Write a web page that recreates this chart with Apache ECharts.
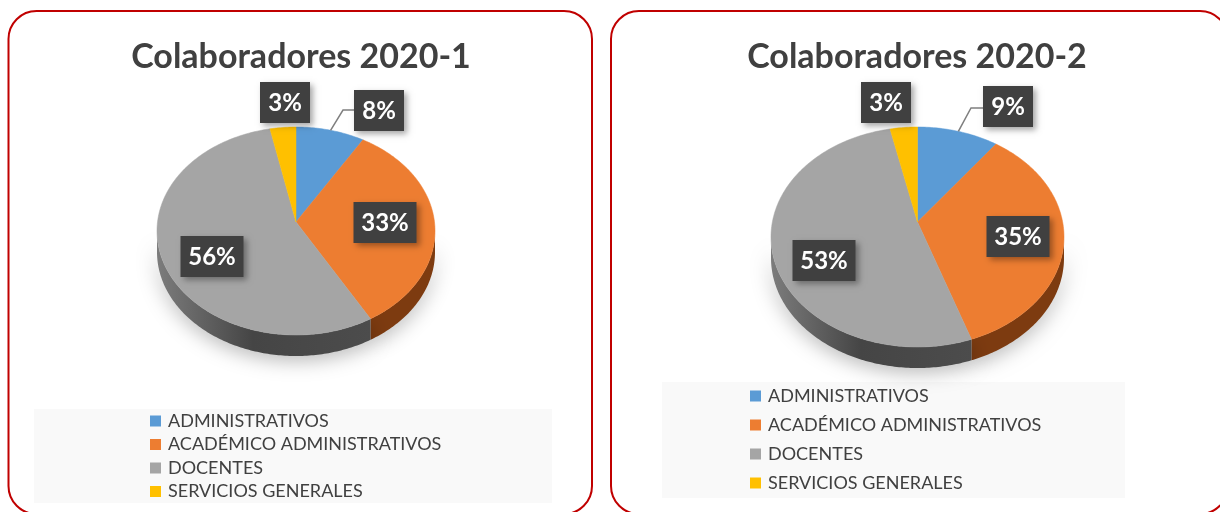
<!DOCTYPE html>
<html>
<head>
<meta charset="utf-8">
<style>
html, body { margin: 0; padding: 0; background: #fff; }
#main { width: 1220px; height: 512px; }
</style>
<script src="https://cdn.jsdelivr.net/npm/echarts@6/dist/echarts.min.js"></script>
</head>
<body>
<div id="main"></div>
<script>
var categories = ['ADMINISTRATIVOS', 'ACADÉMICO ADMINISTRATIVOS', 'DOCENTES', 'SERVICIOS GENERALES'];
var values20201 = [8, 33, 56, 3];
var values20202 = [9, 35, 53, 3];
var titles = ['Colaboradores 2020-1', 'Colaboradores 2020-2'];
var colors = ['#5b9bd5', '#ed7d31', '#a5a5a5', '#ffc000'];

// pie geometry of each panel, the pie is seen from above so the top is an ellipse
var panels = [
    {
        values: values20201, cx: 296, cy: 231, rx: 139, ry: 104, apexY: 222, depth: 21,
        labels: [[379, 110], [385, 222], [212, 256], [285, 102]],
        leader: [[343, 110], [354, 110]]
    },
    {
        values: values20202, cx: 917.5, cy: 237, rx: 146.5, ry: 110, apexY: 222, depth: 21,
        labels: [[1008, 106], [1018, 236], [824, 260], [886, 102]],
        leader: [[971, 108], [983, 108]]
    }
];

function arcPoint(p, pct, drop) {
    var t = pct / 100 * Math.PI * 2;
    return [p.cx + p.rx * Math.sin(t), p.cy - p.ry * Math.cos(t) + (drop || 0)];
}

function sideColor(p, i) {
    if (i === 1) {
        return '#7d3b10';
    }
    return new echarts.graphic.LinearGradient(0, 0, 1, 0, [
        { offset: 0, color: '#7c7c7c' },
        { offset: 0.45, color: '#454545' },
        { offset: 1, color: '#4c4c4c' }
    ]);
}

function makeRender(p, i) {
    return function (params, api) {
        var start = api.value(0);
        var value = api.value(1);
        var end = start + value;
        var children = [];
        var top = [[p.cx, p.apexY]];
        var pct;
        for (pct = start; pct < end; pct += 0.25) {
            top.push(arcPoint(p, pct));
        }
        top.push(arcPoint(p, end));

        // side wall, only the front half of the pie shows it
        var from = Math.max(start, 25);
        var to = Math.min(end, 75);
        if (from < to) {
            var upper = [];
            var lower = [];
            for (pct = from; pct < to; pct += 0.25) {
                upper.push(arcPoint(p, pct));
                lower.unshift(arcPoint(p, pct, p.depth));
            }
            upper.push(arcPoint(p, to));
            lower.unshift(arcPoint(p, to, p.depth));
            children.push({
                type: 'polygon',
                z2: 1,
                shape: { points: upper.concat(lower) },
                style: {
                    fill: sideColor(p, i),
                    shadowBlur: 20,
                    shadowColor: 'rgba(0,0,0,0.3)',
                    shadowOffsetY: 4
                }
            });
        }

        children.push({
            type: 'polygon',
            z2: 5,
            shape: { points: top },
            style: { fill: colors[i], stroke: colors[i], lineWidth: 0.5 }
        });

        // only the first slice has a leader line to its label
        if (i === 0) {
            children.push({
                type: 'polyline',
                z2: 6,
                shape: { points: [arcPoint(p, start + value * 0.5)].concat(p.leader) },
                style: { fill: null, stroke: '#7f7f7f', lineWidth: 1.5 }
            });
        }

        var pos = p.labels[i];
        var text = value + '%';
        var w = text.length > 2 ? 63 : 50;
        children.push({
            type: 'rect',
            z2: 10,
            shape: { x: pos[0] - w / 2, y: pos[1] - 20, width: w, height: 41 },
            style: {
                fill: '#404040',
                shadowBlur: 6,
                shadowColor: 'rgba(0,0,0,0.35)',
                shadowOffsetX: 3,
                shadowOffsetY: 3
            }
        });
        children.push({
            type: 'text',
            z2: 11,
            style: {
                x: pos[0],
                y: pos[1] + 1,
                text: text,
                fill: '#fff',
                font: 'bold 24px Lato',
                align: 'center',
                verticalAlign: 'middle'
            }
        });
        return { type: 'group', children: children };
    };
}

var series = [];
panels.forEach(function (p) {
    var start = 0;
    categories.forEach(function (name, i) {
        series.push({
            type: 'custom',
            name: name,
            coordinateSystem: 'none',
            itemStyle: { color: colors[i] },
            renderItem: makeRender(p, i),
            data: [[start, p.values[i]]],
            silent: true
        });
        start += p.values[i];
    });
});

function legendOf(left, top, gap) {
    return {
        orient: 'vertical',
        left: left,
        top: top,
        icon: 'rect',
        itemWidth: 11,
        itemHeight: 11,
        itemGap: gap,
        padding: 0,
        selectedMode: false,
        data: categories,
        textStyle: { fontFamily: 'Lato', fontSize: 18, lineHeight: 18, color: '#404040', padding: [0, 0, 0, 2] }
    };
}

function titleOf(text, x) {
    return {
        text: text,
        left: x,
        top: 40,
        textAlign: 'center',
        padding: 0,
        textStyle: { fontFamily: 'Lato', fontWeight: 'bold', fontSize: 34, color: '#404040' }
    };
}

var myChart = echarts.init(document.getElementById('main'));
myChart.setOption({
    animation: false,
    backgroundColor: '#fff',
    title: [titleOf(titles[0], 301), titleOf(titles[1], 917)],
    legend: [legendOf(150, 412, 5.5), legendOf(750, 387, 11)],
    graphic: [
        {
            type: 'rect', z: -10,
            shape: { x: 8.5, y: 11, width: 583.5, height: 503, r: 28 },
            style: { fill: '#fff', stroke: '#c00000', lineWidth: 2 }
        },
        {
            type: 'rect', z: -10,
            shape: { x: 611, y: 11, width: 617, height: 503, r: 28 },
            style: { fill: '#fff', stroke: '#c00000', lineWidth: 2 }
        },
        { type: 'rect', z: -9, shape: { x: 34, y: 409, width: 518, height: 94 }, style: { fill: '#f9f9f9' } },
        { type: 'rect', z: -9, shape: { x: 662, y: 382, width: 463, height: 116 }, style: { fill: '#f9f9f9' } }
    ],
    series: series
});
</script>
</body>
</html>
